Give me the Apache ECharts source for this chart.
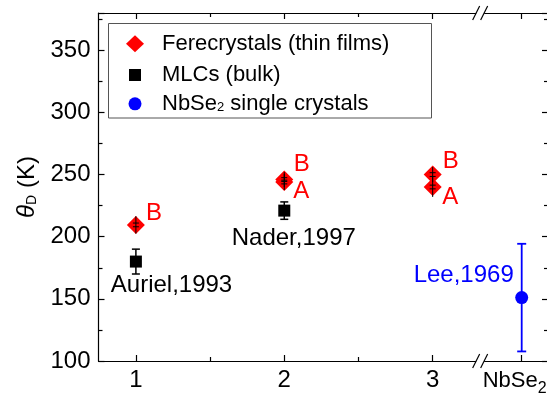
<!DOCTYPE html>
<html><head><meta charset="utf-8">
<script src="https://cdn.jsdelivr.net/npm/echarts@6/dist/echarts.min.js"></script>
<style>html,body{margin:0;padding:0;background:#fff}#c{width:547px;height:408px}</style>
</head><body><div id="c"></div>
<script>
// ---- data ----
const xTickValues = [1, 2, 3, 3.6];
const xTickLabels = ['1', '2', '3', 'NbSe2'];
const xMinorTicks = [1.5, 2.5];
const xBreakAt = [3.32];

const fereName = 'Ferecrystals (thin films)';
const fereX = [1, 2, 2, 3, 3];
const fereY = [209.5, 244, 246, 240, 250];
const fereErr = [7, 6.5, 6, 8, 6];
const fereCapErr = [1.5, 1.5, 1.5, 1.5, 1.5];

const mlcName = 'MLCs (bulk)';
const mlcX = [1, 2];
const mlcY = [180, 221];
const mlcErr = [10, 7];

const nbName = 'NbSe2 single crystals';
const nbX = [3.6];
const nbY = [151];
const nbErr = [43.3];

const annText = ['B', 'Auriel,1993', 'B', 'A', 'Nader,1997', 'B', 'A', 'Lee,1969'];
const annX = [1.122, 1.24, 2.118, 2.115, 2.064, 3.122, 3.118, 3.209];
const annY = [219, 161, 258.4, 236.7, 198.9, 260.8, 231.4, 169.1];
const annKind = ['fere', 'mlc', 'fere', 'fere', 'mlc', 'fere', 'fere', 'nb'];

// ---- styles ----
const FONT = 'Liberation Sans, Arial, sans-serif';
const colors = { fere: '#ff0000', mlc: '#000000', nb: '#0000ff' };
const X_MIN = 0.748, X_MAX = 3.784, Y_MIN = 100, Y_MAX = 380;

const chart = echarts.init(document.getElementById('c'), null, { renderer: 'canvas' });

function errRender(color, lw, capHalf, withCapErr) {
  return function (params, api) {
    const x = api.value(0), y = api.value(1), e = api.value(2);
    const t = api.coord([x, y + e]), b = api.coord([x, y - e]);
    const ch = [{ type: 'line', shape: { x1: t[0], y1: t[1], x2: b[0], y2: b[1] }, style: { stroke: color, lineWidth: lw } }];
    const c = withCapErr ? api.value(3) : e;
    const ct = api.coord([x, y + c]), cb = api.coord([x, y - c]);
    [ct, cb].forEach(p => ch.push({ type: 'line', shape: { x1: p[0] - capHalf, y1: p[1], x2: p[0] + capHalf, y2: p[1] }, style: { stroke: color, lineWidth: lw } }));
    return { type: 'group', children: ch };
  };
}

const xBase = { type: 'value', min: X_MIN, max: X_MAX, splitLine: { show: false } };
const yBase = { type: 'value', min: Y_MIN, max: Y_MAX, interval: 50, splitLine: { show: false } };
const lineStyle = { color: '#000', width: 1.2 };

function legendFor(name, icon, w, h, cy, pad) {
  return {
    orient: 'vertical', left: 135 - w / 2, top: cy - h / 2, padding: 0,
    itemWidth: w, itemHeight: h, selectedMode: false,
    itemStyle: { opacity: 1 },
    data: [{ name: name, icon: icon }],
    formatter: function (n) {
      if (n.indexOf('NbSe2') === 0) return '{p|}{t|NbSe}{s|2}{t| single crystals}';
      return '{p|}{t|' + n + '}';
    },
    textStyle: {
      fontFamily: FONT, fontSize: 22, color: '#000',
      rich: {
        p: { width: pad },
        t: { fontFamily: FONT, fontSize: 22, lineHeight: 24, color: '#000' },
        s: { fontFamily: FONT, fontSize: 13, lineHeight: 13, padding: [8, 0, 0, 0], color: '#000' }
      }
    }
  };
}

const option = {
  animation: false,
  backgroundColor: '#fff',
  grid: { left: 98.5, right: -2, top: 13, bottom: 47, containLabel: false, outerBoundsMode: 'none' },
  legend: [
    legendFor(fereName, 'diamond', 18, 17, 41.3, 13),
    legendFor(mlcName, 'rect', 12, 12, 70, 16),
    legendFor(nbName, 'circle', 13, 13, 99.3, 15.5)
  ],
  graphic: [{
    type: 'rect', shape: { x: 108.5, y: 23.5, width: 323, height: 94.5 },
    style: { fill: 'none', stroke: '#555', lineWidth: 1 }, z: 10
  }],
  xAxis: [
    Object.assign({}, xBase, {
      position: 'bottom', axisLine: { show: true, lineStyle: lineStyle, onZero: false },
      axisTick: { show: true, inside: true, length: 6, customValues: xTickValues, lineStyle: lineStyle },
      axisLabel: {
        show: true, customValues: xTickValues, margin: 3, fontFamily: FONT, fontSize: 24, color: '#000', lineHeight: 33,
        formatter: function (v) {
          const i = xTickValues.findIndex(t => Math.abs(t - v) < 1e-6);
          const s = i >= 0 ? xTickLabels[i] : '';
          if (s === 'NbSe2') return '{a|NbSe}{s|2}';
          return '{n|' + s + '}';
        },
        rich: {
          n: { fontFamily: FONT, fontSize: 24, lineHeight: 33, color: '#000' },
          a: { fontFamily: FONT, fontSize: 22, lineHeight: 33, color: '#000' },
          s: { fontFamily: FONT, fontSize: 16, lineHeight: 16, padding: [17, 14, 0, 0], color: '#000' }
        }
      },
      name: '{i|n}', nameLocation: 'middle', nameGap: 22,
      nameTextStyle: { rich: { i: { fontFamily: FONT, fontSize: 24, fontStyle: 'italic', color: '#000', lineHeight: 24, padding: [0, 0, 0, 20] } } }
    }),
    Object.assign({}, xBase, {
      position: 'bottom', axisLine: { show: false, onZero: false },
      axisTick: { show: true, inside: true, length: 4, customValues: xMinorTicks, lineStyle: lineStyle },
      axisLabel: { show: false }
    }),
    Object.assign({}, xBase, {
      position: 'top', axisLine: { show: true, lineStyle: lineStyle, onZero: false },
      axisTick: { show: true, inside: true, length: 6, customValues: xTickValues, lineStyle: lineStyle },
      axisLabel: { show: false }
    }),
    Object.assign({}, xBase, {
      position: 'top', axisLine: { show: false, onZero: false },
      axisTick: { show: true, inside: true, length: 4, customValues: xMinorTicks, lineStyle: lineStyle },
      axisLabel: { show: false }
    })
  ],
  yAxis: [
    Object.assign({}, yBase, {
      position: 'left', axisLine: { show: true, lineStyle: lineStyle, onZero: false },
      axisTick: { show: true, inside: true, length: 6, lineStyle: lineStyle },
      minorTick: { show: true, splitNumber: 2, length: 4, lineStyle: { color: '#000', width: 1.2 } },
      axisLabel: { show: true, margin: 8, fontFamily: FONT, fontSize: 24, color: '#000', showMaxLabel: false },
      name: '{th|θ}{d|D}{k| (K)}', nameLocation: 'middle', nameGap: 52, nameRotate: 90,
      nameTextStyle: {
        rich: {
          th: { fontFamily: FONT, fontSize: 24, fontStyle: 'italic', color: '#000', lineHeight: 24 },
          d: { fontFamily: FONT, fontSize: 14, lineHeight: 14, padding: [10, 0, 0, 0], color: '#000' },
          k: { fontFamily: FONT, fontSize: 24, color: '#000', lineHeight: 24 }
        }
      }
    }),
    Object.assign({}, yBase, {
      position: 'right', axisLine: { show: true, lineStyle: lineStyle, onZero: false },
      axisTick: { show: true, inside: true, length: 7, lineStyle: lineStyle },
      minorTick: { show: true, splitNumber: 2, length: 5, lineStyle: { color: '#000', width: 1.2 } },
      axisLabel: { show: false }
    })
  ],
  series: [
    {
      name: fereName, type: 'scatter', symbol: 'diamond', symbolSize: [18, 18],
      itemStyle: { color: colors.fere, opacity: 1 }, z: 3,
      data: fereX.map((x, i) => [x, fereY[i]])
    },
    {
      type: 'custom', z: 4, silent: true,
      renderItem: errRender('#000', 1, 3, true),
      data: fereX.map((x, i) => [x, fereY[i], fereErr[i], fereCapErr[i]])
    },
    {
      type: 'custom', z: 2, silent: true,
      renderItem: errRender('#000', 1.5, 4, false),
      data: mlcX.map((x, i) => [x, mlcY[i], mlcErr[i]])
    },
    {
      name: mlcName, type: 'scatter', symbol: 'rect', symbolSize: 12,
      itemStyle: { color: colors.mlc, opacity: 1 }, z: 3,
      data: mlcX.map((x, i) => [x, mlcY[i]])
    },
    {
      type: 'custom', z: 2, silent: true,
      renderItem: errRender(colors.nb, 1.8, 4.5, false),
      data: nbX.map((x, i) => [x, nbY[i], nbErr[i]])
    },
    {
      name: nbName, type: 'scatter', symbol: 'circle', symbolSize: 13,
      itemStyle: { color: colors.nb, opacity: 1 }, z: 3,
      data: nbX.map((x, i) => [x, nbY[i]])
    },
    {
      type: 'custom', z: 5, silent: true, clip: false,
      renderItem: function (params, api) {
        const p = api.coord([api.value(0), api.value(1)]);
        const i = params.dataIndex;
        return {
          type: 'text', x: p[0], y: p[1],
          style: { text: annText[i], fill: colors[annKind[i]], font: '24px ' + FONT, align: 'center', verticalAlign: 'middle' }
        };
      },
      data: annX.map((x, i) => [x, annY[i]])
    },
    {
      type: 'custom', z: 6, silent: true, clip: false,
      renderItem: function (params, api) {
        const p = api.coord([api.value(0), api.value(1)]);
        const cx = p[0], cy = p[1];
        return {
          type: 'group', children: [
            { type: 'rect', shape: { x: cx - 4, y: cy - 2, width: 8, height: 4 }, style: { fill: '#fff' } },
            { type: 'line', shape: { x1: cx - 7.5, y1: cy + 7, x2: cx - 0.5, y2: cy - 7 }, style: { stroke: '#000', lineWidth: 1.2 } },
            { type: 'line', shape: { x1: cx + 0.5, y1: cy + 7, x2: cx + 7.5, y2: cy - 7 }, style: { stroke: '#000', lineWidth: 1.2 } }
          ]
        };
      },
      data: [[xBreakAt[0], Y_MIN], [xBreakAt[0], Y_MAX]]
    }
  ]
};
chart.setOption(option);
</script></body></html>
